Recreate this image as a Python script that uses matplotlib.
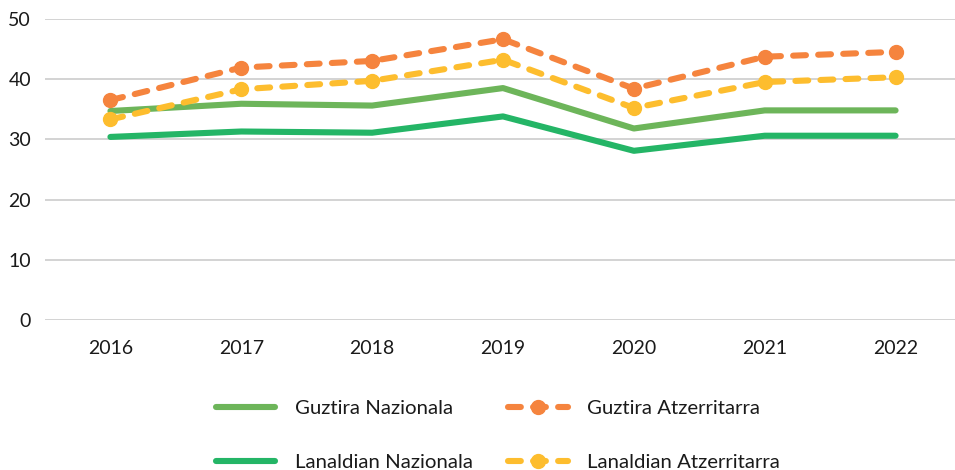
import matplotlib
matplotlib.use("Agg")
import matplotlib.pyplot as plt

plt.rcParams['font.family'] = ['Lato', 'DejaVu Sans']

years = ["2016", "2017", "2018", "2019", "2020", "2021", "2022"]
guztira_nazionala = [34.7, 35.9, 35.6, 38.5, 31.8, 34.8, 34.8]
lanaldian_nazionala = [30.4, 31.3, 31.1, 33.8, 28.1, 30.6, 30.6]
guztira_atzerritarra = [36.5, 41.9, 43.0, 46.6, 38.4, 43.7, 44.5]
lanaldian_atzerritarra = [33.3, 38.3, 39.7, 43.2, 35.2, 39.5, 40.3]

fig = plt.figure(figsize=(9.55, 4.70), dpi=100)
ax = fig.add_axes([45 / 955, 0.3185, 916 / 955, 0.6417])

x = list(range(len(years)))
lw = 4.4
dash = (2.1, 2.0)

l1, = ax.plot(x, guztira_nazionala, color="#6DB55A", lw=lw,
              solid_capstyle="round", solid_joinstyle="round",
              label="Guztira Nazionala", zorder=3)
l2, = ax.plot(x, lanaldian_nazionala, color="#24B566", lw=lw,
              solid_capstyle="round", solid_joinstyle="round",
              label="Lanaldian Nazionala", zorder=3)
l3, = ax.plot(x, guztira_atzerritarra, color="#F5843E", lw=lw,
              dashes=dash, dash_capstyle="round",
              marker="o", markersize=10,
              label="Guztira Atzerritarra", zorder=4)
l4, = ax.plot(x, lanaldian_atzerritarra, color="#FDBD2E", lw=lw,
              dashes=dash, dash_capstyle="round",
              marker="o", markersize=10,
              label="Lanaldian Atzerritarra", zorder=4)

ax.set_xlim(-0.5, 6.5)
ax.set_ylim(0, 50)
ax.set_yticks(range(0, 51, 10))
ax.set_xticks(x)
ax.set_xticklabels(years)
ax.yaxis.grid(True, color="#D0D0D0", lw=1.3)
ax.set_axisbelow(True)
for s in ax.spines.values():
    s.set_visible(False)
ax.tick_params(axis="both", length=0, labelsize=14, colors="#1a1a1a")
ax.tick_params(axis="y", pad=10)
ax.tick_params(axis="x", pad=14)

fig.legend(handles=[l1, l2, l3, l4], ncol=2, frameon=False,
           loc="center", bbox_to_anchor=(498 / 955, 1 - 435.5 / 470),
           fontsize=14.7, handlelength=2.9, handletextpad=0.95,
           columnspacing=1.75, labelspacing=1.8, numpoints=1,
           labelcolor="#1a1a1a")

fig.savefig("out.png", dpi=100)
